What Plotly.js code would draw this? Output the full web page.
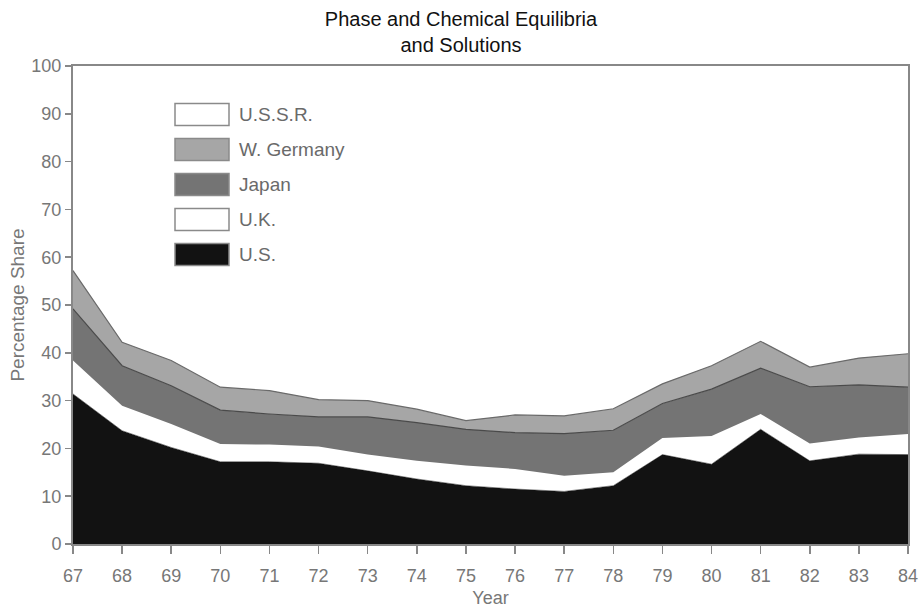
<!DOCTYPE html>
<html>
<head>
<meta charset="utf-8">
<script src="https://cdn.plot.ly/plotly-3.0.1.min.js"></script>
<style>html,body{margin:0;padding:0;background:#fff;}#chart{width:922px;height:608px;}</style>
</head>
<body>
<div id="chart"></div>
<script>
// Years (19xx)
const years = [67, 68, 69, 70, 71, 72, 73, 74, 75, 76, 77, 78, 79, 80, 81, 82, 83, 84];
// Individual shares (percentage points), stacked bottom -> top
const us      = [31.4, 23.7, 20.2, 17.2, 17.2, 16.9, 15.3, 13.6, 12.2, 11.5, 11.0, 12.2, 18.7, 16.7, 24.0, 17.4, 18.8, 18.7];
const uk      = [7.0, 5.2, 4.9, 3.7, 3.6, 3.5, 3.4, 3.8, 4.2, 4.2, 3.3, 2.8, 3.5, 5.9, 3.2, 3.6, 3.5, 4.3];
const japan   = [10.8, 8.4, 8.0, 7.1, 6.4, 6.2, 7.9, 8.0, 7.6, 7.6, 8.8, 8.8, 7.2, 9.8, 9.6, 11.9, 11.0, 9.8];
const germany = [8.0, 4.9, 5.3, 4.8, 4.9, 3.6, 3.4, 2.8, 1.8, 3.7, 3.7, 4.5, 4.1, 4.9, 5.6, 4.1, 5.6, 7.0];
// U.S.S.R. band is drawn white on white in the source, its values cannot be read.

const legendNames  = ["U.S.S.R.", "W. Germany", "Japan", "U.K.", "U.S."];
const legendColors = ["#ffffff", "#a6a6a6", "#747474", "#ffffff", "#121212"];

const seriesNames  = ["U.S.", "U.K.", "Japan", "W. Germany"];
const seriesValues = [us, uk, japan, germany];
const seriesFill   = ["#121212", "#ffffff", "#747474", "#a6a6a6"];
const seriesLine   = ["#121212", "rgba(0,0,0,0)", "#4a4a4a", "#6a6a6a"];
const seriesLineW  = [0.5, 0, 1.2, 1.2];

const traces = seriesNames.map((n, i) => ({
  type: "scatter",
  mode: "lines",
  name: n,
  x: years,
  y: seriesValues[i],
  stackgroup: "one",
  fillcolor: seriesFill[i],
  line: {color: seriesLine[i], width: seriesLineW[i], shape: "linear"},
  showlegend: false,
  hoverinfo: "skip"
}));

// manual legend (paper coordinates of the plot area: 73..908 px, 66..544 px)
const L = 73, R = 908, T = 66, B = 544;
const px2x = p => (p - L) / (R - L);
const py2y = p => (B - p) / (B - T);
const shapes = [];
const annotations = [];
legendNames.forEach((n, i) => {
  const top = 103.5 + i * 35;
  const bot = top + 22;
  shapes.push({
    type: "rect", xref: "paper", yref: "paper",
    x0: px2x(175), x1: px2x(229), y0: py2y(bot), y1: py2y(top),
    fillcolor: legendColors[i], line: {color: "#8a8a8a", width: 1.5}, layer: "above"
  });
  annotations.push({
    xref: "paper", yref: "paper", x: px2x(237), y: py2y((top + bot) / 2),
    xanchor: "left", yanchor: "middle", showarrow: false, text: n,
    font: {family: "Liberation Sans, Arial, sans-serif", size: 19, color: "#6a6a6a"}
  });
});

const layout = {
  width: 922, height: 608,
  margin: {l: L, r: 922 - R, t: T, b: 608 - B},
  paper_bgcolor: "#ffffff", plot_bgcolor: "#ffffff",
  font: {family: "Liberation Sans, Arial, sans-serif", color: "#777"},
  title: {
    text: "Phase and Chemical Equilibria<br>and Solutions",
    font: {family: "Liberation Sans, Arial, sans-serif", size: 20, color: "#111"},
    x: 0.5, xref: "container", xanchor: "center",
    y: 0.958, yref: "container", yanchor: "top"
  },
  xaxis: {
    range: [67, 84], tickmode: "linear", tick0: 67, dtick: 1,
    ticks: "outside", ticklen: 8, tickwidth: 1.5, tickcolor: "#888",
    showline: true, linecolor: "#888", linewidth: 2, mirror: true,
    showgrid: false, zeroline: false, ticklabelstandoff: 6,
    tickfont: {size: 18, color: "#777"},
    title: {text: "Year", font: {size: 18, color: "#777"}, standoff: 7}
  },
  yaxis: {
    range: [0, 100], tickmode: "linear", tick0: 0, dtick: 10,
    ticks: "outside", ticklen: 6, tickwidth: 1.5, tickcolor: "#888",
    showline: true, linecolor: "#888", linewidth: 2, mirror: true,
    showgrid: false, zeroline: false,
    tickfont: {size: 18, color: "#777"},
    title: {text: "Percentage Share", font: {size: 19, color: "#777"}, standoff: 2}
  },
  shapes: shapes,
  annotations: annotations,
  showlegend: false,
  hovermode: false
};

Plotly.newPlot("chart", traces, layout, {displayModeBar: false, staticPlot: true});
</script>
</body>
</html>
